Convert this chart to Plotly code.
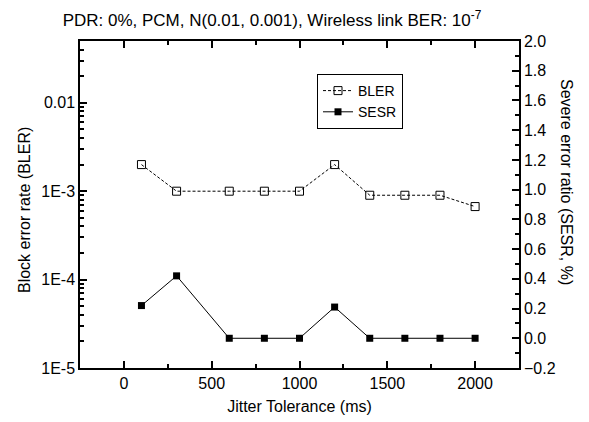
import plotly.graph_objects as go

# ---- data ----
jitter_ms = [100, 300, 600, 800, 1000, 1200, 1400, 1600, 1800, 2000]
bler = [2e-3, 1e-3, 1e-3, 1e-3, 1e-3, 2e-3, 9e-4, 9e-4, 9e-4, 6.7e-4]
sesr = [0.22, 0.42, 0.0, 0.0, 0.0, 0.21, 0.0, 0.0, 0.0, 0.0]

left_tickvals = [1e-5, 1e-4, 1e-3, 1e-2]
left_ticktext = ["1E-5", "1E-4", "1E-3", "0.01"]
x_tickvals = [0, 500, 1000, 1500, 2000]
right_tickvals = [-0.2, 0.0, 0.2, 0.4, 0.6, 0.8, 1.0, 1.2, 1.4, 1.6, 1.8, 2.0]

title_text = "PDR: 0%, PCM, N(0.01, 0.001), Wireless link BER: 10<sup>-7</sup>"
x_title = "Jitter Tolerance (ms)"
y_title = "Block error rate (BLER)"
y2_title = "Severe error ratio (SESR, %)"

FONT = "Liberation Sans, Arial, sans-serif"
minor_log = [m * 10 ** e for e in range(-5, -1) for m in range(2, 10)] + [0.02, 0.03, 0.04]

# page body has an 8px default margin
OFF = 8
W, H = 589 - OFF, 422 - OFF
L, R, T, B = 80 - OFF, 70, 41 - OFF, 54

fig = go.Figure()
fig.add_trace(go.Scatter(
    x=jitter_ms, y=bler, name="BLER", mode="lines+markers",
    line=dict(color="black", width=1, dash="3px,2px"),
    marker=dict(symbol="square-open", size=8, color="black", line=dict(width=1, color="black")),
    yaxis="y",
))
fig.add_trace(go.Scatter(
    x=jitter_ms, y=sesr, name="SESR", mode="lines+markers",
    line=dict(color="black", width=1),
    marker=dict(symbol="square", size=7, color="black"),
    yaxis="y2",
))

axis_common = dict(
    showgrid=False, zeroline=False, showline=True, linecolor="#000000", linewidth=1.5,
    ticks="inside", ticklen=7, tickwidth=2, tickcolor="#000000", automargin=False,
    tickfont=dict(family=FONT, size=16, color="black"),
)
minor_common = dict(ticks="inside", ticklen=4, tickwidth=1.5, tickcolor="#000000")

fig.update_layout(
    width=W, height=H,
    margin=dict(l=L, r=R, t=T, b=B),
    paper_bgcolor="white", plot_bgcolor="white",
    font=dict(family=FONT, size=16, color="black"),
    showlegend=True,
    legend=dict(
        x=(317 - 80) / 439, y=(368 - 74) / 327, xanchor="left", yanchor="top",
        bordercolor="black", borderwidth=1, bgcolor="white",
        font=dict(family=FONT, size=14, color="black"),
        itemwidth=30, tracegroupgap=0,
    ),
    xaxis=dict(
        **axis_common,
        range=[-250, 2250], tickmode="array", tickvals=x_tickvals,
        mirror="ticks",
        minor=dict(**minor_common, dtick=250, tick0=0),
        title=dict(text=x_title, font=dict(family=FONT, size=16, color="black"), standoff=10),
    ),
    yaxis=dict(
        **axis_common,
        type="log", range=[-5, -1.30103],
        tickmode="array", tickvals=left_tickvals, ticktext=left_ticktext,
        minor=dict(**minor_common, tickmode="array", tickvals=minor_log),
    ),
    yaxis2=dict(
        **axis_common,
        overlaying="y", side="right", range=[-0.2, 2.0],
        tickmode="array", tickvals=right_tickvals, tickformat=".1f",
        minor=dict(**minor_common, dtick=0.1, tick0=0),
    ),
    title=dict(text=title_text, x=(272 - OFF) / W, xanchor="center", y=1 - (20 - OFF) / H, yanchor="middle",
               font=dict(family=FONT, size=17, color="black")),
    annotations=[
        dict(text=y_title, xref="paper", yref="paper", x=-(80 - 25) / 439, y=(368 - 210) / 327,
             xanchor="center", yanchor="middle", textangle=-90, showarrow=False,
             font=dict(family=FONT, size=16, color="black")),
        dict(text=y2_title, xref="paper", yref="paper", x=(567 - 80) / 439, y=(368 - 182) / 327,
             xanchor="center", yanchor="middle", textangle=90, showarrow=False,
             font=dict(family=FONT, size=16, color="black")),
    ],
)

fig.write_html("out.html")
